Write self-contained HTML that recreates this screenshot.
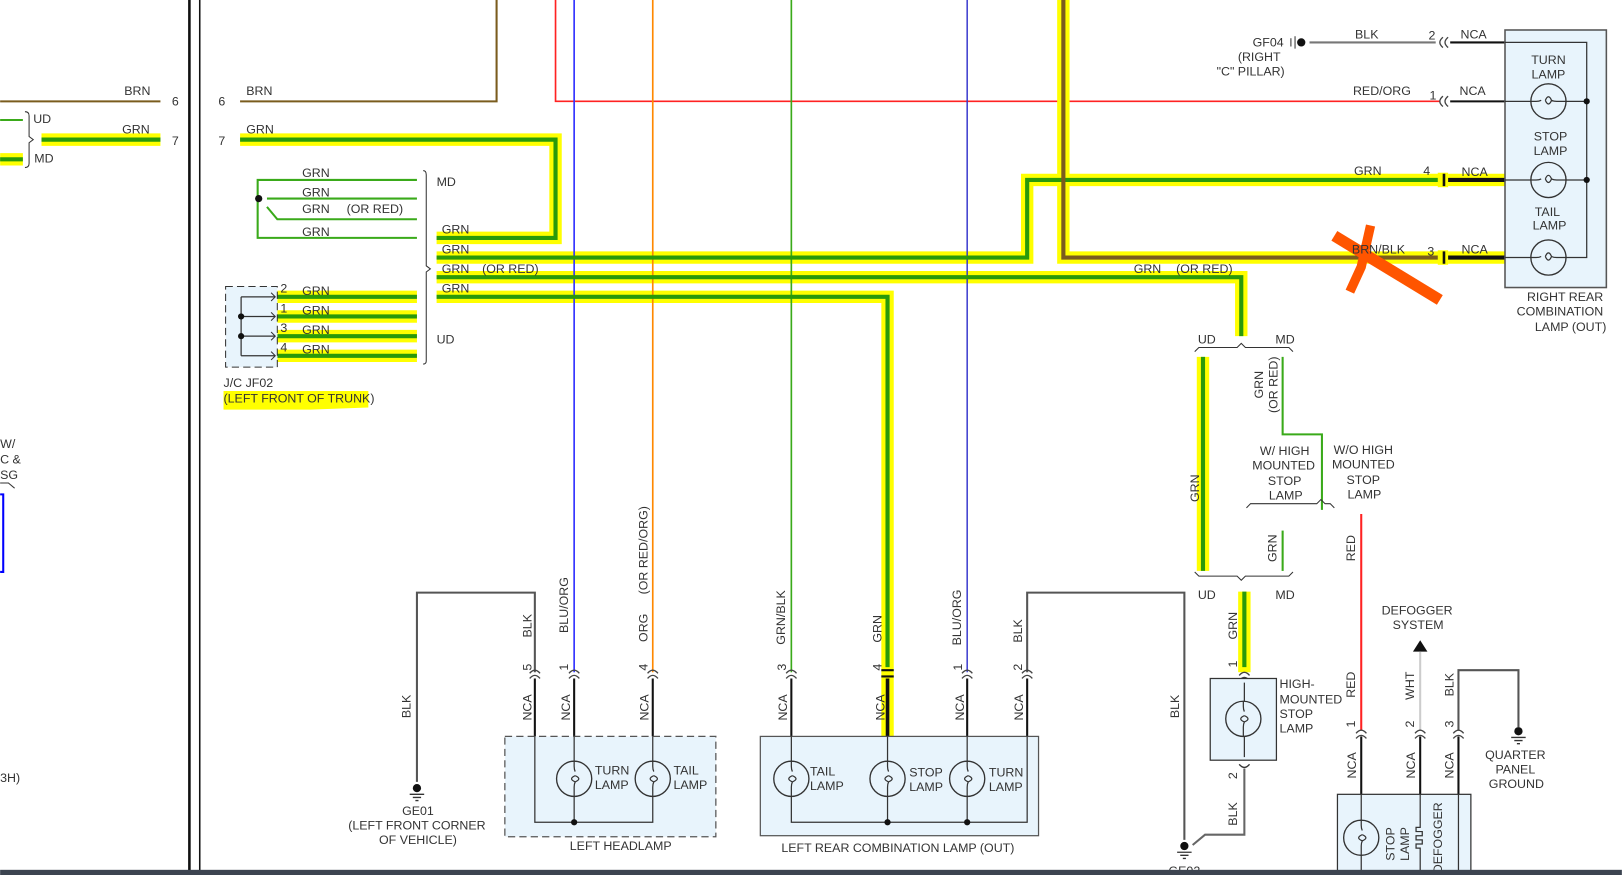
<!DOCTYPE html>
<html><head><meta charset="utf-8"><style>
html,body{margin:0;padding:0;background:#fff;}
svg{display:block;}
text{font-family:"Liberation Sans",sans-serif;font-size:12px;fill:#333;}
</style></head><body>
<svg width="1622" height="875" viewBox="0 0 1568 846" xmlns="http://www.w3.org/2000/svg">
<defs>
<g id="lamp"><circle r="17" fill="none" stroke="#333" stroke-width="1.3"/><path d="M-3 -1 q3 -7 6 0 q-3 7 -6 0 M-17 0 h5 q3 0 5 -1 M3 -1 q2 1 5 1 h9" fill="none" stroke="#333" stroke-width="1.2"/></g>
<g id="cv"><path d="M-5 -3 Q0 -9 5 -3 M-5 2 Q0 -4 5 2" fill="none" stroke="#444" stroke-width="1.3"/></g>
<g id="ch"><path d="M3 -5 Q-3 0 3 5 M8 -5 Q2 0 8 5" fill="none" stroke="#444" stroke-width="1.3"/></g>
<g id="gnd"><circle r="4" fill="#111"/><path d="M-7 6 H7 M-4 9 H4 M-1.5 12 H1.5" stroke="#333" stroke-width="1.3"/></g>
</defs>
<rect width="1568" height="846" fill="#fff"/>

<line x1="183" y1="0" x2="183" y2="842" stroke="#111" stroke-width="2.5"/>
<line x1="193" y1="0" x2="193" y2="842" stroke="#111" stroke-width="1.5"/>

<line x1="0" y1="98" x2="155" y2="98" stroke="#7a5c1e" stroke-width="2"/>
<text x="120" y="92">BRN</text><text x="166" y="102">6</text>
<line x1="40" y1="135" x2="155" y2="135" stroke="#ff0" stroke-width="12"/>
<line x1="40" y1="135" x2="155" y2="135" stroke="#2a9a0a" stroke-width="4"/>
<text x="118" y="129">GRN</text><text x="166" y="140">7</text>
<line x1="0" y1="116" x2="22" y2="116" stroke="#3aaa1a" stroke-width="2"/>
<line x1="0" y1="154" x2="22" y2="154" stroke="#ff0" stroke-width="12"/>
<line x1="0" y1="154" x2="22" y2="154" stroke="#2a9a0a" stroke-width="4"/>
<path d="M24 108 q4 0 4 4 v20 l4 3 l-4 3 v20 q0 4 -4 4" fill="none" stroke="#333"/>
<text x="32" y="119">UD</text><text x="33" y="157">MD</text>
<text x="0" y="433">W/</text><text x="0" y="448">C &amp;</text><text x="0" y="463">SG</text>
<path d="M0 467 h8 l6 5" fill="none" stroke="#333"/>
<path d="M0 478 h3 v75 h-3" fill="none" stroke="#00f" stroke-width="2"/>
<text x="0" y="756">3H)</text>

<text x="211" y="102">6</text><text x="238" y="92">BRN</text>
<path d="M232 98 H480 V0" fill="none" stroke="#7a5c1e" stroke-width="2"/>
<path d="M537 0 V98 H1392" fill="none" stroke="#f22" stroke-width="1.6"/>

<g fill="none" stroke="#ff0" stroke-width="12" stroke-linejoin="miter">
<path d="M232 135 H537 V230 H422"/>
<path d="M422 249 H993 V174 H1400"/>
<path d="M422 268 H1200 V325"/>
<path d="M422 287 H858 V712"/>
<path d="M1028 0 V249 H1400"/>
<path d="M268 287 H403 M268 306 H403 M268 325 H403 M268 344 H403"/>
<path d="M1163 345 V552 M1203 572 V650"/>
<path d="M1400 174 H1455 M1400 249 H1455"/>
</g>
<line x1="555" y1="0" x2="555" y2="650" stroke="#33f" stroke-width="1.6"/>
<line x1="631" y1="0" x2="631" y2="650" stroke="#f80" stroke-width="1.6"/>
<line x1="765" y1="0" x2="765" y2="650" stroke="#3aaa1a" stroke-width="1.6"/>
<line x1="935" y1="0" x2="935" y2="650" stroke="#33c" stroke-width="1.4"/>
<g fill="none" stroke="#2a9a0a" stroke-width="4">
<path d="M232 135 H537 V230 H422"/>
<path d="M422 249 H993 V174 H1392"/>
<path d="M422 268 H1200 V325"/>
<path d="M422 287 H858 V645"/>
<path d="M268 287 H403 M268 306 H403 M268 325 H403 M268 344 H403"/>
<path d="M1163 345 V552 M1203 572 V645"/>
</g>
<path d="M1028 0 V249 H1392" fill="none" stroke="#7a5c1e" stroke-width="4"/>
<text x="238" y="129">GRN</text><text x="211" y="140">7</text>

<g fill="none" stroke="#3aaa1a" stroke-width="2">
<path d="M403 174 H249 V230 H403"/>
<path d="M258 192 H403"/>
<path d="M258 200 L268 212 H403"/>
</g>
<circle cx="250" cy="192" r="3.5" fill="#111"/>
<text x="292" y="171">GRN</text><text x="292" y="190">GRN</text><text x="292" y="206">GRN</text><text x="335" y="206">(OR RED)</text><text x="292" y="228">GRN</text>
<path d="M409 165 q3 0 3 4 v88 l4 3 l-4 3 v86 q0 3 -3 3" fill="none" stroke="#333"/>
<text x="422" y="180">MD</text><text x="422" y="332">UD</text>
<text x="427" y="226">GRN</text><text x="427" y="245">GRN</text><text x="427" y="264">GRN</text><text x="466" y="264">(OR RED)</text><text x="427" y="283">GRN</text>

<rect x="218" y="277" width="50" height="78" fill="#e8f4fc" stroke="#333" stroke-dasharray="7,4"/>
<path d="M233 287 V344 M233 287 H266 M233 306 H266 M233 325 H266 M233 344 H266" fill="none" stroke="#333" stroke-width="1.2"/>
<g stroke="#333" fill="none"><path d="M262 283 l4 4 l-4 4 M262 302 l4 4 l-4 4 M262 321 l4 4 l-4 4 M262 340 l4 4 l-4 4"/></g>
<circle cx="233" cy="306" r="3" fill="#111"/><circle cx="233" cy="325" r="3" fill="#111"/>
<g font-size="11"><text x="271" y="283">2</text><text x="271" y="302">1</text><text x="271" y="321">3</text><text x="271" y="340">4</text></g>
<text x="292" y="285">GRN</text><text x="292" y="304">GRN</text><text x="292" y="323">GRN</text><text x="292" y="342">GRN</text>
<text x="216" y="374">J/C JF02</text>
<path d="M216 378 H356 V394 L300 396 H216 Z" fill="#ff0"/>
<text x="216" y="389">(LEFT FRONT OF TRUNK)</text>

<!-- orange X (under text) -->
<path d="M1290 228 L1392 290" stroke="#ff5500" stroke-width="11" fill="none"/>
<path d="M1325 218 L1316 258 L1305 282" stroke="#ff5500" stroke-width="9" fill="none"/>

<path d="M1248 37 v8 M1252 35 v12" stroke="#333"/>
<circle cx="1258" cy="41" r="4" fill="#111"/>
<line x1="1266" y1="41" x2="1388" y2="41" stroke="#777" stroke-width="2"/>
<text x="1241" y="45" text-anchor="end">GF04</text>
<text x="1238" y="59" text-anchor="end">(RIGHT</text><text x="1242" y="73" text-anchor="end">"C" PILLAR)</text>
<text x="1310" y="37">BLK</text><text x="1381" y="38">2</text><text x="1412" y="37">NCA</text>
<use href="#ch" x="1392" y="41"/>
<line x1="1402" y1="41" x2="1455" y2="41" stroke="#111" stroke-width="2"/>
<text x="1308" y="92">RED/ORG</text><text x="1382" y="96">1</text><text x="1411" y="92">NCA</text>
<use href="#ch" x="1392" y="98"/>
<line x1="1402" y1="98" x2="1455" y2="98" stroke="#111" stroke-width="2"/>
<text x="1309" y="169">GRN</text><text x="1376" y="169">4</text><text x="1413" y="170">NCA</text>
<rect x="1390" y="167" width="10" height="14" fill="#ff0"/><rect x="1390" y="242" width="10" height="14" fill="#ff0"/>
<path d="M1396 168 v12 M1396 243 v12" stroke="#111" stroke-width="2.5"/>
<line x1="1400" y1="174" x2="1455" y2="174" stroke="#111" stroke-width="4"/>
<text x="1307" y="245">BRN/BLK</text><text x="1380" y="247">3</text><text x="1413" y="245">NCA</text>
<line x1="1400" y1="249" x2="1455" y2="249" stroke="#111" stroke-width="4"/>
<text x="1096" y="264">GRN</text><text x="1137" y="264">(OR RED)</text>

<rect x="1455" y="29" width="98" height="249" fill="#e8f4fc" stroke="#555" stroke-width="1.5"/>
<path d="M1455 41 H1534 V249 H1455 M1455 98 H1534 M1455 174 H1534" fill="none" stroke="#333" stroke-width="1.2"/>
<circle cx="1534" cy="98" r="3" fill="#111"/><circle cx="1534" cy="174" r="3" fill="#111"/>
<g><rect x="1480" y="81" width="34" height="34" fill="#e8f4fc"/><use href="#lamp" x="1497" y="98"/>
<rect x="1480" y="157" width="34" height="34" fill="#e8f4fc"/><use href="#lamp" x="1497" y="174"/>
<rect x="1480" y="232" width="34" height="34" fill="#e8f4fc"/><use href="#lamp" x="1497" y="249"/></g>
<g text-anchor="middle"><text x="1497" y="62">TURN</text><text x="1497" y="76">LAMP</text>
<text x="1499" y="136">STOP</text><text x="1499" y="150">LAMP</text>
<text x="1496" y="209">TAIL</text><text x="1498" y="222">LAMP</text></g>
<g text-anchor="end"><text x="1550" y="291">RIGHT REAR</text><text x="1550" y="305">COMBINATION</text><text x="1553" y="320">LAMP (OUT)</text></g>

<path d="M1155 340 l4 -4 H1196 l4 -4 l4 4 H1246 l4 4" fill="none" stroke="#333"/>
<text x="1158" y="332">UD</text><text x="1233" y="332">MD</text>
<text transform="rotate(-90 1159 472)" x="1159" y="472" text-anchor="middle">GRN</text>
<path d="M1240 345 V420 H1278 V493" fill="none" stroke="#3aaa1a" stroke-width="2"/>
<text transform="rotate(-90 1221 372)" x="1221" y="372" text-anchor="middle">GRN</text>
<text transform="rotate(-90 1235 372)" x="1235" y="372" text-anchor="middle">(OR RED)</text>
<g text-anchor="middle"><text x="1242" y="440">W/ HIGH</text><text x="1241" y="454">MOUNTED</text><text x="1242" y="469">STOP</text><text x="1243" y="483">LAMP</text>
<text x="1318" y="439">W/O HIGH</text><text x="1318" y="453">MOUNTED</text><text x="1318" y="468">STOP</text><text x="1319" y="482">LAMP</text></g>
<path d="M1205 491 l4 -4 H1273 l4 -4 l4 4 H1286 l4 4" fill="none" stroke="#333"/>
<line x1="1240" y1="513" x2="1240" y2="552" stroke="#3aaa1a" stroke-width="2"/>
<text transform="rotate(-90 1234 530)" x="1234" y="530" text-anchor="middle">GRN</text>
<line x1="1316" y1="497" x2="1316" y2="706" stroke="#f22" stroke-width="2"/>
<text transform="rotate(-90 1310 530)" x="1310" y="530" text-anchor="middle">RED</text>
<text transform="rotate(-90 1310 662)" x="1310" y="662" text-anchor="middle">RED</text>
<path d="M1155 553 l4 4 H1196 l4 4 l4 -4 H1246 l4 -4" fill="none" stroke="#333"/>
<text x="1158" y="579">UD</text><text x="1233" y="579">MD</text>
<text transform="rotate(-90 1196 605)" x="1196" y="605" text-anchor="middle">GRN</text>
<text transform="rotate(-90 1196 642)" x="1196" y="642" text-anchor="middle">1</text>
<use href="#cv" x="1203" y="656"/>
<rect x="1170" y="656" width="64" height="79" fill="#e8f4fc" stroke="#333" stroke-width="1.2"/>
<line x1="1203" y1="660" x2="1203" y2="732" stroke="#333" stroke-width="1.2"/>
<rect x="1186" y="678" width="34" height="34" fill="#e8f4fc"/><use href="#lamp" x="1202" y="695" transform="rotate(90 1202 695)"/>
<text x="1237" y="665">HIGH-</text><text x="1237" y="680">MOUNTED</text><text x="1237" y="694">STOP</text><text x="1237" y="708">LAMP</text>
<path d="M1198 739 Q1203 745 1208 739" fill="none" stroke="#333" stroke-width="1.3"/>
<text transform="rotate(-90 1196 750)" x="1196" y="750" text-anchor="middle">2</text>
<path d="M1203 743 V807 H1165 L1153 817" fill="none" stroke="#666" stroke-width="2"/>
<text transform="rotate(-90 1196 787)" x="1196" y="787" text-anchor="middle">BLK</text>
<path d="M993 650 V573 H1145 V812" fill="none" stroke="#555" stroke-width="2"/>
<text transform="rotate(-90 1140 683)" x="1140" y="683" text-anchor="middle">BLK</text>
<use href="#gnd" x="1145" y="818"/>
<text x="1145" y="846" text-anchor="middle">GE02</text>

<text x="1370" y="594" text-anchor="middle">DEFOGGER</text><text x="1371" y="608" text-anchor="middle">SYSTEM</text>
<path d="M1373 619 L1380 630 L1366 630 Z" fill="#111"/>
<line x1="1373" y1="630" x2="1373" y2="706" stroke="#ccc" stroke-width="2"/>
<text transform="rotate(-90 1367 663)" x="1367" y="663" text-anchor="middle">WHT</text>
<text transform="rotate(-90 1310 700)" x="1310" y="700" text-anchor="middle">1</text>
<text transform="rotate(-90 1367 700)" x="1367" y="700" text-anchor="middle">2</text>
<text transform="rotate(-90 1405 700)" x="1405" y="700" text-anchor="middle">3</text>
<path d="M1410 706 V648 H1468 V703" fill="none" stroke="#555" stroke-width="2"/>
<text transform="rotate(-90 1405 662)" x="1405" y="662" text-anchor="middle">BLK</text>
<use href="#gnd" x="1468" y="707"/>
<g text-anchor="middle"><text x="1465" y="734">QUARTER</text><text x="1465" y="748">PANEL</text><text x="1466" y="762">GROUND</text></g>
<use href="#cv" x="1316" y="712"/><use href="#cv" x="1373" y="712"/><use href="#cv" x="1410" y="712"/>
<g stroke="#111" stroke-width="2"><line x1="1316" y1="712" x2="1316" y2="768"/><line x1="1373" y1="712" x2="1373" y2="768"/><line x1="1410" y1="712" x2="1410" y2="768"/></g>
<text transform="rotate(-90 1311 740)" x="1311" y="740" text-anchor="middle">NCA</text>
<text transform="rotate(-90 1368 740)" x="1368" y="740" text-anchor="middle">NCA</text>
<text transform="rotate(-90 1405 740)" x="1405" y="740" text-anchor="middle">NCA</text>
<rect x="1293" y="768" width="129" height="80" fill="#e8f4fc" stroke="#333" stroke-width="1.2"/>
<path d="M1316 768 V846 M1410 768 V846 M1373 768 V800 h-4 v4 h6 v4 h-6 v4 h6 v4 h-6 v4 h4 V846" fill="none" stroke="#333" stroke-width="1.2"/>
<rect x="1300" y="793" width="32" height="34" fill="#e8f4fc"/><use href="#lamp" x="1316" y="810" transform="rotate(90 1316 810)"/>
<text transform="rotate(-90 1348 816)" x="1348" y="816" text-anchor="middle">STOP</text>
<text transform="rotate(-90 1362 816)" x="1362" y="816" text-anchor="middle">LAMP</text>
<text transform="rotate(-90 1394 810)" x="1394" y="810" text-anchor="middle">DEFOGGER</text>

<path d="M517 650 V573 H403 V756" fill="none" stroke="#555" stroke-width="2"/>
<text transform="rotate(-90 397 683)" x="397" y="683" text-anchor="middle">BLK</text>
<text transform="rotate(-90 514 605)" x="514" y="605" text-anchor="middle">BLK</text>
<text transform="rotate(-90 549 585)" x="549" y="585" text-anchor="middle">BLU/ORG</text>
<text transform="rotate(-90 626 607)" x="626" y="607" text-anchor="middle">ORG</text>
<text transform="rotate(-90 626 532)" x="626" y="532" text-anchor="middle">(OR RED/ORG)</text>
<use href="#gnd" x="403" y="762"/>
<g text-anchor="middle"><text x="404" y="788">GE01</text><text x="403" y="802">(LEFT FRONT CORNER</text><text x="404" y="816">OF VEHICLE)</text>
<text x="600" y="822">LEFT HEADLAMP</text><text x="868" y="824">LEFT REAR COMBINATION LAMP (OUT)</text></g>
<g>
<use href="#cv" x="517" y="654"/><use href="#cv" x="555" y="654"/><use href="#cv" x="631" y="654"/>
<use href="#cv" x="765" y="654"/><use href="#cv" x="935" y="654"/><use href="#cv" x="993" y="654"/>
</g>
<g font-size="11">
<text transform="rotate(-90 514 645)" x="514" y="645" text-anchor="middle">5</text>
<text transform="rotate(-90 549 645)" x="549" y="645" text-anchor="middle">1</text>
<text transform="rotate(-90 626 645)" x="626" y="645" text-anchor="middle">4</text>
<text transform="rotate(-90 760 645)" x="760" y="645" text-anchor="middle">3</text>
<text transform="rotate(-90 852 645)" x="852" y="645" text-anchor="middle">4</text>
<text transform="rotate(-90 930 645)" x="930" y="645" text-anchor="middle">1</text>
<text transform="rotate(-90 988 645)" x="988" y="645" text-anchor="middle">2</text>
</g>
<g stroke="#111" stroke-width="2">
<line x1="517" y1="656" x2="517" y2="712"/><line x1="555" y1="656" x2="555" y2="712"/><line x1="631" y1="656" x2="631" y2="712"/>
<line x1="765" y1="656" x2="765" y2="712"/><line x1="935" y1="656" x2="935" y2="712"/><line x1="993" y1="656" x2="993" y2="712"/>
</g>
<line x1="858" y1="656" x2="858" y2="712" stroke="#111" stroke-width="3.5"/>
<path d="M852 648 h12 M852 654 h12" stroke="#111" stroke-width="2"/>
<g>
<text transform="rotate(-90 514 684)" x="514" y="684" text-anchor="middle">NCA</text>
<text transform="rotate(-90 551 684)" x="551" y="684" text-anchor="middle">NCA</text>
<text transform="rotate(-90 627 684)" x="627" y="684" text-anchor="middle">NCA</text>
<text transform="rotate(-90 761 684)" x="761" y="684" text-anchor="middle">NCA</text>
<text transform="rotate(-90 855 684)" x="855" y="684" text-anchor="middle">NCA</text>
<text transform="rotate(-90 932 684)" x="932" y="684" text-anchor="middle">NCA</text>
<text transform="rotate(-90 989 684)" x="989" y="684" text-anchor="middle">NCA</text>
<text transform="rotate(-90 759 597)" x="759" y="597" text-anchor="middle">GRN/BLK</text>
<text transform="rotate(-90 852 608)" x="852" y="608" text-anchor="middle">GRN</text>
<text transform="rotate(-90 929 597)" x="929" y="597" text-anchor="middle">BLU/ORG</text>
<text transform="rotate(-90 988 610)" x="988" y="610" text-anchor="middle">BLK</text>
</g>
<rect x="488" y="712" width="204" height="97" fill="#e8f4fc" stroke="#555" stroke-dasharray="7,4" stroke-width="1.2"/>
<path d="M517 712 V795 H631 V712 M555 712 V795" fill="none" stroke="#333" stroke-width="1.2"/>
<circle cx="555" cy="795" r="3" fill="#111"/>
<rect x="540" y="736" width="30" height="34" fill="#e8f4fc"/><use href="#lamp" x="555" y="753" transform="rotate(90 555 753)"/>
<rect x="616" y="736" width="30" height="34" fill="#e8f4fc"/><use href="#lamp" x="631" y="753" transform="rotate(90 631 753)"/>
<text x="575" y="749">TURN</text><text x="575" y="763">LAMP</text><text x="651" y="749">TAIL</text><text x="651" y="763">LAMP</text>

<rect x="735" y="712" width="269" height="96" fill="#e8f4fc" stroke="#555" stroke-width="1.2"/>
<path d="M765 712 V795 H993 V712 M858 712 V795 M935 712 V795" fill="none" stroke="#333" stroke-width="1.2"/>
<circle cx="858" cy="795" r="3" fill="#111"/><circle cx="935" cy="795" r="3" fill="#111"/>
<rect x="750" y="736" width="30" height="34" fill="#e8f4fc"/><use href="#lamp" x="765" y="753" transform="rotate(90 765 753)"/>
<rect x="843" y="736" width="30" height="34" fill="#e8f4fc"/><use href="#lamp" x="858" y="753" transform="rotate(90 858 753)"/>
<rect x="920" y="736" width="30" height="34" fill="#e8f4fc"/><use href="#lamp" x="935" y="753" transform="rotate(90 935 753)"/>
<text x="783" y="750">TAIL</text><text x="783" y="764">LAMP</text>
<text x="879" y="751">STOP</text><text x="879" y="765">LAMP</text>
<text x="956" y="751">TURN</text><text x="956" y="765">LAMP</text>

<rect x="0" y="841" width="1568" height="5" fill="#3c4450"/>
</svg>
</body></html>
